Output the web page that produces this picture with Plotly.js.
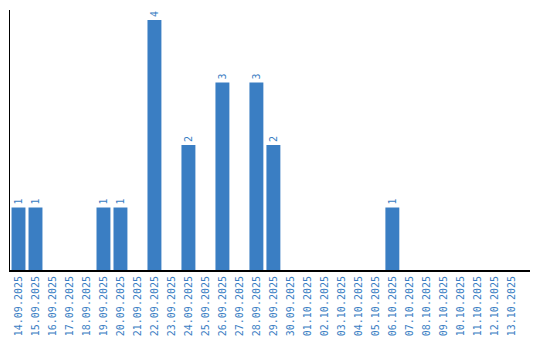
<!DOCTYPE html>
<html>
<head>
<meta charset="utf-8">
<script src="https://cdn.plot.ly/plotly-3.0.1.min.js"></script>
<style>html,body{margin:0;padding:0;background:#fff;}#chart{width:540px;height:340px;}</style>
</head>
<body>
<div id="chart"></div>
<script>
const dates = ["14.09.2025","15.09.2025","16.09.2025","17.09.2025","18.09.2025","19.09.2025","20.09.2025","21.09.2025","22.09.2025","23.09.2025","24.09.2025","25.09.2025","26.09.2025","27.09.2025","28.09.2025","29.09.2025","30.09.2025","01.10.2025","02.10.2025","03.10.2025","04.10.2025","05.10.2025","06.10.2025","07.10.2025","08.10.2025","09.10.2025","10.10.2025","11.10.2025","12.10.2025","13.10.2025"];
const counts = [1,1,0,0,0,1,1,0,4,0,2,0,3,0,3,2,0,0,0,0,0,0,1,0,0,0,0,0,0,0];
const labels = counts.map(v => v > 0 ? String(v) : "");
const blue = "#3a7ec3";
const mono = "DejaVu Sans Mono, monospace";
Plotly.newPlot("chart", [{
  type: "bar",
  x: dates,
  y: counts,
  text: labels,
  textposition: "outside",
  textangle: -90,
  cliponaxis: false,
  textfont: {family: mono, size: 10, color: blue},
  marker: {color: blue},
  width: 0.82,
  hoverinfo: "none"
}], {
  width: 540, height: 340,
  margin: {l: 10, r: 10, t: 10, b: 70, pad: 0},
  paper_bgcolor: "#fff", plot_bgcolor: "#fff",
  showlegend: false,
  xaxis: {
    type: "category",
    range: [-0.5, 30.1],
    tickangle: -90,
    tickfont: {family: mono, size: 10, color: blue},
    showline: true, linecolor: "#000", linewidth: 2,
    showgrid: false, zeroline: false, ticks: ""
  },
  yaxis: {
    range: [0, 4.16],
    showticklabels: false,
    showline: true, linecolor: "#000", linewidth: 1,
    showgrid: false, zeroline: false, ticks: ""
  }
}, {staticPlot: true});
</script>
</body>
</html>
